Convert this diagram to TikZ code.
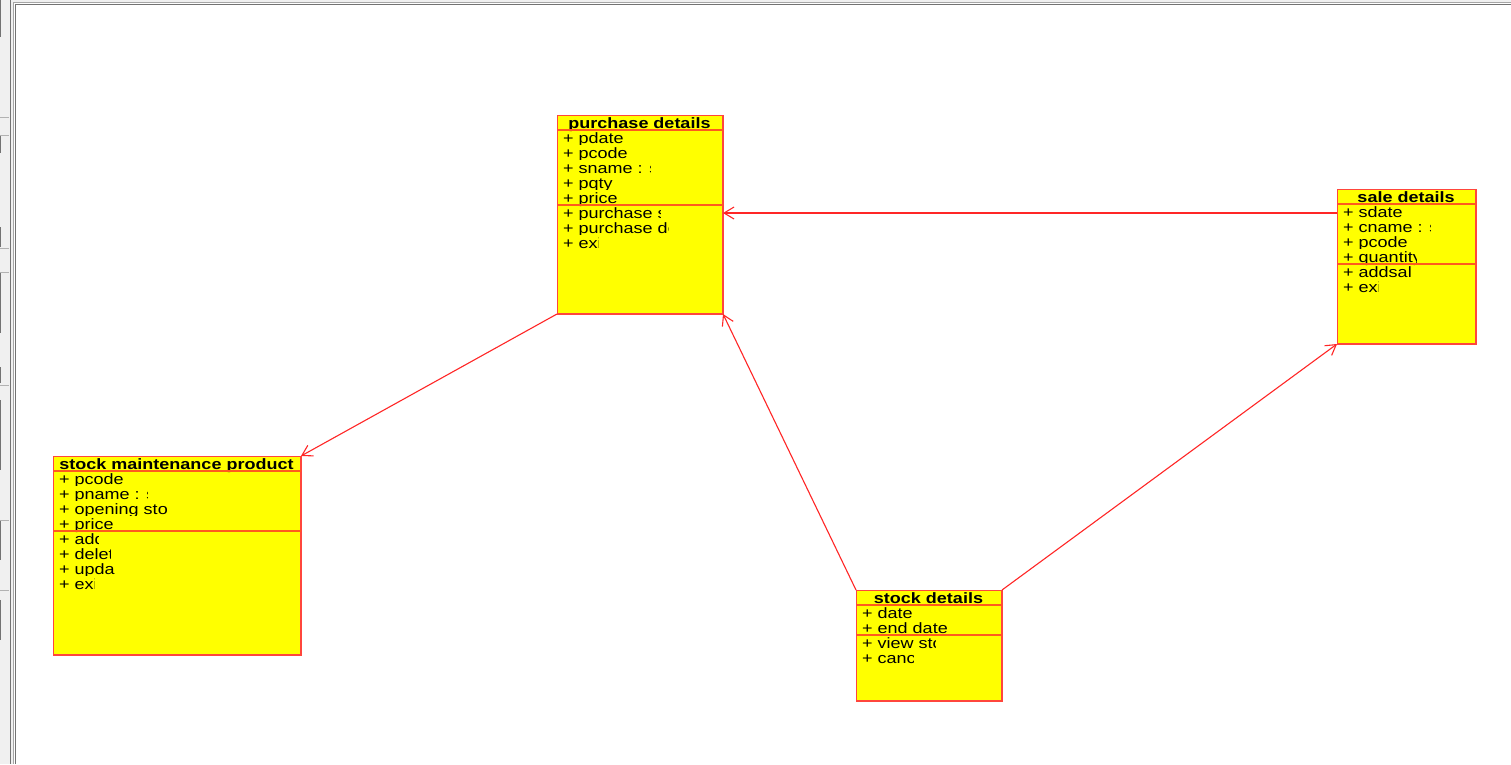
\documentclass[tikz,border=0pt]{standalone}
\usepackage{fontspec}
\setmainfont{Liberation Sans}[FakeStretch=1.2]
\usetikzlibrary{arrows.meta}
\definecolor{umlred}{RGB}{255,70,60}
\definecolor{sepred}{RGB}{255,90,30}
\definecolor{umlyellow}{RGB}{255,255,0}
\definecolor{panelgray}{RGB}{240,240,240}
\tikzset{
  umlbox/.style={draw=umlred, fill=umlyellow, line width=1pt, rectangle, inner sep=0pt, anchor=north west},
  partline/.style={draw=sepred, line width=1.6pt},
  rowtext/.style={anchor=base west, inner sep=0pt, font=\fontsize{15}{15}\selectfont},
  titletext/.style={anchor=base, inner sep=0pt, font=\fontsize{15}{15}\selectfont\bfseries},
  assoc/.style={draw=red!85, line width=1.1pt, -{Straight Barb[length=10pt,width=12pt]}},
  framedark/.style={draw=black!55, line width=1pt},
  framelight/.style={draw=black!35, line width=1pt},
}
% one attribute/operation row, clipped to its cell
% #1 name, #2 x, #3 baseline, #4 right clip, #5 bottom clip offset, #6 text
\newcommand\umlrow[6]{%
  \begin{scope}
    \clip (#2-3,#3-13) rectangle (#4,#3+#5);
    \node[rowtext] (#1) at (#2,#3) {#6};
  \end{scope}}
\begin{document}
\begin{tikzpicture}[x=1pt,y=-1pt]
\useasboundingbox (0,0) rectangle (1511,764);
\fill[white] (0,0) rectangle (1511,764);

% window frame
\fill[panelgray] (0,0) rectangle (10,764);
\fill[panelgray] (10,0) rectangle (1511,2);
\fill[panelgray] (11,0) rectangle (13,764);
\draw[framedark] (10.5,0) -- (10.5,764);
\draw[framelight] (13.5,764) -- (13.5,2.5) -- (1511,2.5);
\draw[framedark] (15,764) -- (15,4.5) -- (1511,4.5);
\foreach \ya/\yb in {0/37,135/153,227/247,273/333,367/383,400/470,520/560,600/640}
  \draw[black!55, line width=1.2pt] (0.6,\ya) -- (0.6,\yb);
\foreach \yy in {117,135,248,272,385,520,590}
  \draw[black!30, line width=0.8pt] (0,\yy) -- (9,\yy);

% class boxes
\node[umlbox, minimum width=165pt, minimum height=198pt] (purchase) at (557,115) {};
\node[umlbox, minimum width=138pt, minimum height=154pt] (sale) at (1337,189) {};
\node[umlbox, minimum width=247pt, minimum height=198pt] (smp) at (53,456) {};
\node[umlbox, minimum width=145pt, minimum height=110pt] (sd) at (856,590) {};

% purchase details
\node[titletext] (purchaseT) at (639.5,128) {purchase details};
\umlrow{pa1}{563}{143.3}{720}{1.6}{+ pdate}
\umlrow{pa2}{563}{158.3}{720}{1.6}{+ pcode}
\umlrow{pa3}{563}{173.3}{650}{1.6}{+ sname : s}
\umlrow{pa4}{563}{188.3}{720}{1.6}{+ pqty}
\umlrow{pa5}{563}{203.3}{720}{4}{+ price}
\umlrow{po1}{563}{218.3}{660}{1.6}{+ purchase s}
\umlrow{po2}{563}{233.3}{668}{1.6}{+ purchase de}
\umlrow{po3}{563}{248.3}{598}{4}{+ exi}

% sale details
\node[titletext] (saleT) at (1406,202) {sale details};
\umlrow{sa1}{1343}{217.3}{1473}{1.6}{+ sdate}
\umlrow{sa2}{1343}{232.3}{1430}{1.6}{+ cname : s}
\umlrow{sa3}{1343}{247.3}{1473}{1.6}{+ pcode}
\umlrow{sa4}{1343}{262.3}{1416}{4}{+ quantity}
\umlrow{so1}{1343}{277.3}{1411}{1.6}{+ addsal}
\umlrow{so2}{1343}{292.3}{1378}{4}{+ exi}

% stock maintenance product
\node[titletext] (smpT) at (176.5,469) {stock maintenance product};
\umlrow{ma1}{59}{484.3}{298}{1.6}{+ pcode}
\umlrow{ma2}{59}{499.3}{147}{1.6}{+ pname : s}
\umlrow{ma3}{59}{514.3}{298}{1.6}{+ opening sto}
\umlrow{ma4}{59}{529.3}{298}{4}{+ price}
\umlrow{mo1}{59}{544.3}{98}{1.6}{+ add}
\umlrow{mo2}{59}{559.3}{110}{1.6}{+ delet}
\umlrow{mo3}{59}{574.3}{298}{1.6}{+ upda}
\umlrow{mo4}{59}{589.3}{94}{4}{+ exi}

% stock details
\node[titletext] (sdT) at (928.5,603) {stock details};
\umlrow{da1}{862}{618.3}{999}{1.6}{+ date}
\umlrow{da2}{862}{633.3}{999}{4}{+ end date}
\umlrow{do1}{862}{648.3}{935}{1.6}{+ view sto}
\umlrow{do2}{862}{663.3}{913}{4}{+ canc}

% compartment separators
\foreach \cls/\sep in {purchase/90, sale/75, smp/75, sd/45}{
  \draw[partline] ([yshift=-15pt]\cls.north west) -- ([yshift=-15pt]\cls.north east);
  \draw[partline] ([yshift=-\sep pt]\cls.north west) -- ([yshift=-\sep pt]\cls.north east);
}
% outlines drawn again over the separator ends
\foreach \cls in {purchase, sale, smp, sd}
  \draw[umlred, line width=1pt] (\cls.north west) rectangle (\cls.south east);

% associations
\draw[assoc] ([yshift=-24pt]sale.north west) -- ([yshift=-98pt]purchase.north east);
\draw[assoc] (purchase.south west) -- (smp.north east);
\draw[assoc] (sd.north west) -- (purchase.south east);
\draw[assoc] (sd.north east) -- (sale.south west);
\end{tikzpicture}
\end{document}
